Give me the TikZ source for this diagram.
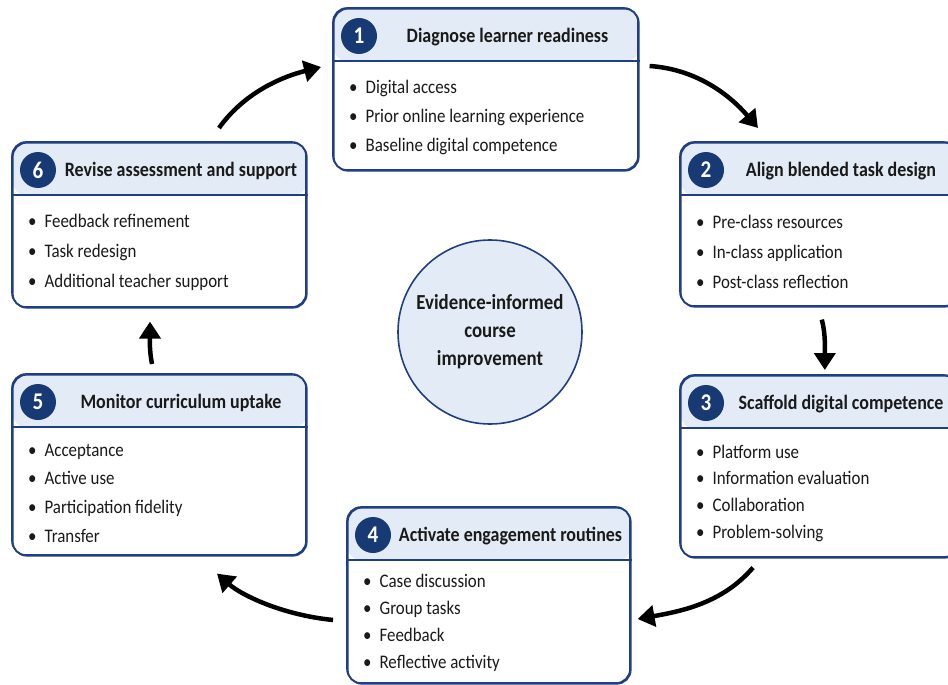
\documentclass[tikz,border=0pt]{standalone}
\usepackage{fontspec}
\setmainfont[FakeStretch=0.88]{Carlito}
\usepackage{tikz}
\usetikzlibrary{arrows.meta,calc}
\definecolor{navy}{HTML}{173A74}
\definecolor{edgeblue}{HTML}{203E86}
\definecolor{hdrblue}{HTML}{E3EBF6}
\definecolor{ink}{HTML}{1A1A1A}

\begin{document}
\begin{tikzpicture}[x=1pt,y=-1pt]
    \tikzstyle{stage} = [draw=edgeblue, line width=1.6pt, rounded corners=14pt, fill=white, anchor=north west, inner sep=0pt]
    \tikzstyle{badge} = [circle, fill=navy, text=white, minimum size=36pt, inner sep=0pt, font=\bfseries\fontsize{24}{26}\selectfont]
    \tikzstyle{stitle} = [text=ink, inner sep=0pt, font=\bfseries\fontsize{20.4}{22}\selectfont]
    \tikzstyle{item} = [text=ink, inner sep=0pt, anchor=base west, font=\fontsize{19.2}{21}\selectfont]
    \tikzstyle{cycle} = [line width=4.5pt, black, -{Triangle[length=17pt,width=21pt]}]
    \useasboundingbox (0,0) rectangle (948,685);
    \fill[white] (0,0) rectangle (948,685);
    % the six stages
    \foreach \n/\x/\y/\w/\h/\fy/\dy/\ttl/\items in {
        1/333/8/305/162/79/29/{Diagnose learner readiness}/{Digital access,Prior online learning experience,Baseline digital competence},
        2/680/142/278/164/80/30/{Align blended task design}/{Pre-class resources,In-class application,Post-class reflection},
        3/680/375/278/182/77/26.7/{Scaffold digital competence}/{Platform use,Information evaluation,Collaboration,Problem-solving},
        4/347/507/283/176/74/27.3/{Activate engagement routines}/{Case discussion,Group tasks,Feedback,Reflective activity},
        5/12/374/294/181/76/28.7/{Monitor curriculum uptake}/{Acceptance,Active use,Participation fidelity,Transfer},
        6/12/142/294/165/79/30/{Revise assessment and support}/{Feedback refinement,Task redesign,Additional teacher support}} {
        \node[stage, minimum width=\w pt, minimum height=\h pt,
              path picture={\fill[hdrblue] (path picture bounding box.north west) rectangle ($(path picture bounding box.north east)+(0,53)$);}]
              (b\n) at (\x,\y) {};
        \draw[edgeblue, line width=1.4pt] ($(b\n.north west)+(0,53)$) -- ($(b\n.north east)+(0,53)$);
        \draw[stage, fill=none] (\x,\y) rectangle ++(\w,\h);
        \node[badge] (n\n) at ({\x+26},{\y+28}) {\n};
        \node[stitle] (t\n) at ({\x+\w/2+22},{\y+29}) {\ttl};
        \foreach \it [count=\k] in \items {
            \node[item] (b\n-\k) at ({\x+16},{\y+\fy+6+(\k-1)*\dy}) {\textbullet\hspace{8pt}\it};
        }
    }
    % centre
    \node[circle, draw=edgeblue, line width=1.6pt, fill=hdrblue, minimum size=184pt, align=center,
          text=ink, font=\bfseries\fontsize{21.4}{28}\selectfont] (core) at (490,332)
          {Evidence-informed\\course\\improvement};
    % cycle arrows
    \draw[cycle] ($(b1.north east)+(10,58)$) .. controls +(45,3) and +(-30,-35) .. ($(b2.north west)+(78,-14)$);
    \draw[cycle] ($(b2.south)+(2,12)$) .. controls +(4,15) and +(0,-20) .. ($(b3.north)+(5,-5)$);
    \draw[cycle] ($(b3.south west)+(73,9)$) .. controls +(-30,35) and +(45,-8) .. ($(b4.north east)+(6,112)$);
    \draw[cycle] ($(b4.north west)+(-14,113)$) .. controls +(-50,-5) and +(25,22) .. ($(b5.south west)+(205,17)$);
    \draw[cycle] ($(b5.north west)+(140,-10)$) .. controls +(-3,-15) and +(0,15) .. ($(b6.south west)+(138,13)$);
    \draw[cycle] ($(b6.north west)+(207,-14)$) .. controls +(25,-35) and +(-40,10) .. ($(b1.north west)+(-12,59)$);
\end{tikzpicture}
\end{document}
